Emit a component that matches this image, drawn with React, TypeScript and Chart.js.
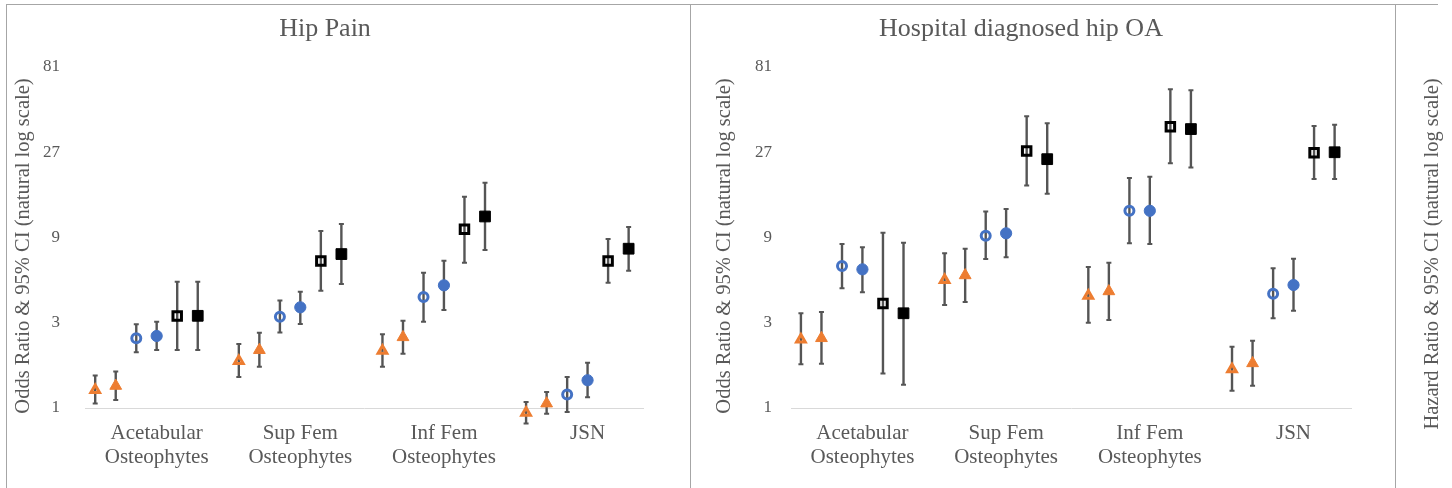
import React, { useEffect, useRef } from "react";
import { Chart, registerables } from "chart.js";

Chart.register(...registerables);

// ---------- data ----------
const categories: string[][] = [
  ["Acetabular", "Osteophytes"],
  ["Sup Fem", "Osteophytes"],
  ["Inf Fem", "Osteophytes"],
  ["JSN"],
];
const yTickValues = [1, 3, 9, 27, 81];
const seriesNames = ["Series 1", "Series 2", "Series 3", "Series 4", "Series 5", "Series 6"];

// Hip Pain: odds ratio, lower 95% CI, upper 95% CI per category
const hipPainS1OR = [1.26, 1.83, 2.09, 0.94];
const hipPainS1Lo = [1.06, 1.49, 1.7, 0.82];
const hipPainS1Hi = [1.52, 2.28, 2.59, 1.08];
const hipPainS2OR = [1.33, 2.11, 2.49, 1.06];
const hipPainS2Lo = [1.11, 1.7, 2.01, 0.93];
const hipPainS2Hi = [1.6, 2.64, 3.08, 1.23];
const hipPainS3OR = [2.46, 3.24, 4.18, 1.19];
const hipPainS3Lo = [2.05, 2.65, 3.04, 0.95];
const hipPainS3Hi = [2.94, 3.99, 5.72, 1.49];
const hipPainS4OR = [2.53, 3.66, 4.86, 1.43];
const hipPainS4Lo = [2.11, 2.95, 3.54, 1.15];
const hipPainS4Hi = [3.04, 4.48, 6.67, 1.79];
const hipPainS5OR = [3.27, 6.65, 10.0, 6.65];
const hipPainS5Lo = [2.11, 4.53, 6.5, 5.03];
const hipPainS5Hi = [5.09, 9.79, 15.2, 8.83];
const hipPainS6OR = [3.28, 7.27, 11.8, 7.79];
const hipPainS6Lo = [2.11, 4.94, 7.66, 5.87];
const hipPainS6Hi = [5.09, 10.7, 18.2, 10.3];

// Hospital diagnosed hip OA
const hospOAS1OR = [2.42, 5.21, 4.25, 1.65];
const hospOAS1Lo = [1.76, 3.77, 3.0, 1.25];
const hospOAS1Hi = [3.39, 7.34, 6.15, 2.2];
const hospOAS2OR = [2.46, 5.53, 4.5, 1.78];
const hospOAS2Lo = [1.77, 3.92, 3.11, 1.33];
const hospOAS2Hi = [3.45, 7.79, 6.5, 2.38];
const hospOAS3OR = [6.23, 9.21, 12.7, 4.36];
const hospOAS3Lo = [4.68, 6.82, 8.35, 3.18];
const hospOAS3Hi = [8.28, 12.6, 19.4, 6.05];
const hospOAS4OR = [5.97, 9.5, 12.7, 4.88];
const hospOAS4Lo = [4.44, 6.97, 8.28, 3.5];
const hospOAS4Hi = [7.93, 13.0, 19.7, 6.85];
const hospOAS5OR = [3.85, 27.4, 37.5, 26.8];
const hospOAS5Lo = [1.56, 17.6, 23.4, 19.1];
const hospOAS5Hi = [9.57, 42.9, 60.8, 37.9];
const hospOAS6OR = [3.39, 24.7, 36.4, 27.0];
const hospOAS6Lo = [1.35, 15.8, 22.2, 19.1];
const hospOAS6Hi = [8.42, 39.2, 60.0, 38.5];

const hipPainSeries = [
  [hipPainS1OR, hipPainS1Lo, hipPainS1Hi],
  [hipPainS2OR, hipPainS2Lo, hipPainS2Hi],
  [hipPainS3OR, hipPainS3Lo, hipPainS3Hi],
  [hipPainS4OR, hipPainS4Lo, hipPainS4Hi],
  [hipPainS5OR, hipPainS5Lo, hipPainS5Hi],
  [hipPainS6OR, hipPainS6Lo, hipPainS6Hi],
];
const hospOASeries = [
  [hospOAS1OR, hospOAS1Lo, hospOAS1Hi],
  [hospOAS2OR, hospOAS2Lo, hospOAS2Hi],
  [hospOAS3OR, hospOAS3Lo, hospOAS3Hi],
  [hospOAS4OR, hospOAS4Lo, hospOAS4Hi],
  [hospOAS5OR, hospOAS5Lo, hospOAS5Hi],
  [hospOAS6OR, hospOAS6Lo, hospOAS6Hi],
];

// ---------- layout / style ----------
const FONT = "'Liberation Serif', 'Times New Roman', serif";
const TEXT = "#595959";
const ORANGE = "#ED7D31";
const BLUE = "#4472C4";
const BLACK = "#000000";
const SERIES_OFFSETS = [-0.357, -0.214, -0.071, 0.071, 0.214, 0.357];
const LABEL_OFFSET = 0.071;
const CANVAS_H = 483;

const seriesStyles = [
  { pointStyle: "triangle", color: ORANGE, hollow: true, radius: 5 },
  { pointStyle: "triangle", color: ORANGE, hollow: false, radius: 6.8 },
  { pointStyle: "circle", color: BLUE, hollow: true, radius: 4.5 },
  { pointStyle: "circle", color: BLUE, hollow: false, radius: 5.6 },
  { pointStyle: "rect", color: BLACK, hollow: true, radius: 6 },
  { pointStyle: "rect", color: BLACK, hollow: false, radius: 7.6 },
];

const errorBarsPlugin = {
  id: "errorBars",
  beforeDatasetsDraw(chart: any, _args: any, opts: any) {
    const { ctx, scales } = chart;
    const xs = scales.x;
    const ys = scales.y;
    if (!xs || !ys) return;
    ctx.save();
    ctx.strokeStyle = opts.color || "#595959";
    ctx.lineCap = "butt";
    chart.data.datasets.forEach((ds: any) => {
      ds.data.forEach((p: any) => {
        const px = xs.getPixelForValue(p.x);
        const yl = ys.getPixelForValue(p.lo);
        const yh = ys.getPixelForValue(p.hi);
        ctx.lineWidth = opts.width || 2.25;
        ctx.beginPath();
        ctx.moveTo(px, yl);
        ctx.lineTo(px, yh);
        ctx.stroke();
        ctx.lineWidth = 2;
        ctx.beginPath();
        ctx.moveTo(px - opts.cap, yl);
        ctx.lineTo(px + opts.cap, yl);
        ctx.moveTo(px - opts.cap, yh);
        ctx.lineTo(px + opts.cap, yh);
        ctx.stroke();
      });
    });
    ctx.restore();
  },
};

const sideTitlePlugin = {
  id: "sideTitle",
  afterDraw(chart: any, _args: any, opts: any) {
    if (!opts || !opts.text) return;
    const { ctx } = chart;
    ctx.save();
    ctx.translate(opts.x, opts.y);
    ctx.rotate(-Math.PI / 2);
    ctx.font = `normal ${opts.size}px ${FONT}`;
    ctx.fillStyle = TEXT;
    ctx.textAlign = "center";
    ctx.textBaseline = "middle";
    ctx.fillText(opts.text, 0, 0);
    ctx.restore();
  },
};

type PanelCfg = {
  title: string;
  series: number[][][];
  left: number;
  width: number;
  yAxisWidth: number;
  yTickPad: number;
  padRight: number;
  xMin: number;
  xMax: number;
  yTitleX: number;
};

function buildDatasets(series: number[][][]) {
  return series.map((s, si) => {
    const [or, lo, hi] = s;
    const st = seriesStyles[si];
    return {
      label: seriesNames[si],
      data: categories.map((_, ci) => ({
        x: ci + 1 + SERIES_OFFSETS[si],
        y: or[ci],
        lo: lo[ci],
        hi: hi[ci],
      })),
      pointStyle: st.pointStyle,
      pointRadius: st.radius,
      pointHoverRadius: st.radius,
      pointBorderWidth: st.hollow ? 3 : 1,
      pointBorderColor: st.color,
      pointBackgroundColor: st.hollow ? "rgba(0,0,0,0)" : st.color,
      showLine: false,
      clip: false,
    };
  });
}

function Panel({ cfg }: { cfg: PanelCfg }) {
  const ref = useRef<HTMLCanvasElement>(null);
  useEffect(() => {
    const chart = new Chart(ref.current as HTMLCanvasElement, {
      type: "scatter",
      data: { datasets: buildDatasets(cfg.series) as any },
      plugins: [errorBarsPlugin, sideTitlePlugin],
      options: {
        responsive: false,
        animation: false,
        devicePixelRatio: 1,
        events: [],
        layout: { padding: { left: 0, right: cfg.padRight, top: 0, bottom: 0 } },
        plugins: {
          legend: { display: false },
          tooltip: { enabled: false },
          title: {
            display: true,
            text: cfg.title,
            color: TEXT,
            font: { family: FONT, size: 26, weight: "normal", lineHeight: 1.2 },
            padding: { top: 9, bottom: 21.8 },
          },
          errorBars: { color: "#555555", width: 2.4, cap: 2.5 },
          sideTitle: {
            text: "Odds Ratio & 95% CI (natural log scale)",
            x: cfg.yTitleX,
            y: 241,
            size: 20.5,
          },
        } as any,
        scales: {
          x: {
            type: "linear",
            min: cfg.xMin,
            max: cfg.xMax,
            afterBuildTicks: (s: any) => {
              s.ticks = categories.map((_, i) => ({ value: i + 1 + LABEL_OFFSET }));
            },
            afterFit: (s: any) => {
              s.height = CANVAS_H - 403;
            },
            ticks: {
              autoSkip: false,
              maxRotation: 0,
              minRotation: 0,
              padding: 13,
              color: TEXT,
              font: { family: FONT, size: 21, lineHeight: 1.143 },
              callback: (_v: any, i: number) => categories[i],
            },
            grid: { display: false, drawTicks: false },
            border: { display: true, color: "#D9D9D9", width: 1 },
          },
          y: {
            type: "logarithmic",
            min: 1,
            max: 81,
            afterBuildTicks: (s: any) => {
              s.ticks = yTickValues.map((v) => ({ value: v }));
            },
            afterFit: (s: any) => {
              s.width = cfg.yAxisWidth;
            },
            ticks: {
              padding: cfg.yTickPad,
              color: TEXT,
              font: { family: FONT, size: 17 },
              callback: (v: any) => String(v),
            },
            grid: { display: false, drawTicks: false },
            border: { display: false },
          },
        },
      } as any,
    });
    return () => chart.destroy();
  }, []);
  return (
    <canvas
      ref={ref}
      width={cfg.width}
      height={CANVAS_H}
      style={{ position: "absolute", left: cfg.left, top: 5, width: cfg.width, height: CANVAS_H }}
    />
  );
}

function SidePanel() {
  const ref = useRef<HTMLCanvasElement>(null);
  useEffect(() => {
    const chart = new Chart(ref.current as HTMLCanvasElement, {
      type: "scatter",
      data: { datasets: [] },
      plugins: [sideTitlePlugin],
      options: {
        responsive: false,
        animation: false,
        devicePixelRatio: 1,
        events: [],
        plugins: {
          legend: { display: false },
          tooltip: { enabled: false },
          sideTitle: {
            text: "Hazard Ratio & 95% CI (natural log scale)",
            x: 37,
            y: 249,
            size: 20.5,
          },
        } as any,
        scales: { x: { display: false }, y: { display: false } },
      } as any,
    });
    return () => chart.destroy();
  }, []);
  return (
    <canvas
      ref={ref}
      width={56}
      height={CANVAS_H}
      style={{ position: "absolute", left: 1396, top: 5, width: 56, height: CANVAS_H }}
    />
  );
}

const panel1: PanelCfg = {
  title: "Hip Pain",
  series: hipPainSeries,
  left: 7,
  width: 683,
  yAxisWidth: 78,
  yTickPad: 25,
  padRight: 47,
  xMin: 0.572,
  xMax: 4.457,
  yTitleX: 16.5,
};

const panel2: PanelCfg = {
  title: "Hospital diagnosed hip OA",
  series: hospOASeries,
  left: 691,
  width: 704,
  yAxisWidth: 100,
  yTickPad: 19,
  padRight: 44,
  xMin: 0.574,
  xMax: 4.471,
  yTitleX: 34,
};

const BORDER = "#A6A6A6";

export default function App() {
  const line = (style: React.CSSProperties) => (
    <div style={{ position: "absolute", background: BORDER, ...style }} />
  );
  return (
    <div
      style={{
        position: "absolute",
        left: 0,
        top: 0,
        width: 1452,
        height: 488,
        overflow: "hidden",
        background: "#ffffff",
      }}
    >
      {line({ left: 6, top: 4, width: 1432, height: 1 })}
      {line({ left: 6, top: 4, width: 1, height: 484 })}
      {line({ left: 690, top: 4, width: 1, height: 484 })}
      {line({ left: 1395, top: 4, width: 1, height: 484 })}
      <Panel cfg={panel1} />
      <Panel cfg={panel2} />
      <SidePanel />
    </div>
  );
}
